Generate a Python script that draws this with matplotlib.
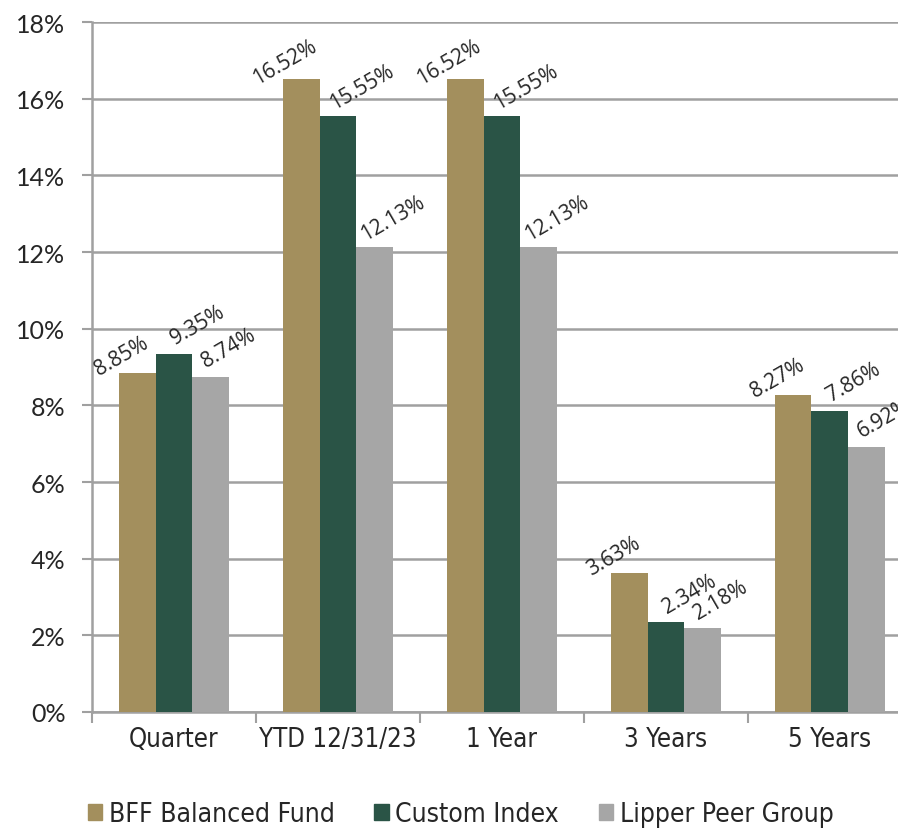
import numpy as np
import matplotlib.pyplot as plt
from matplotlib.patches import Patch

categories = ['Quarter', 'YTD 12/31/23', '1 Year', '3 Years', '5 Years']
series_names = ['BFF Balanced Fund', 'Custom Index', 'Lipper Peer Group']
fund = [8.85, 16.52, 16.52, 3.63, 8.27]
custom = [9.35, 15.55, 15.55, 2.34, 7.86]
lipper = [8.74, 12.13, 12.13, 2.18, 6.92]
colors = ['#A38F5D', '#2A5446', '#A6A6A6']

yticks = np.arange(0, 19, 2)

fig = plt.figure(figsize=(8.98, 8.29), dpi=100)
ax = fig.add_axes([0.1024, 0.140, 0.913, 0.832])

x = np.arange(len(categories))
w = 0.224
txt = '#262626'
# label offsets (pixels) per series, roughly where excel put them
dxs = [-16, 24, 18]
dys = [17, 29, 29]
for k, vals in enumerate([fund, custom, lipper]):
    pos = x + (k - 1) * w
    ax.bar(pos, vals, width=w, color=colors[k], zorder=3)
    for p, v in zip(pos, vals):
        ax.annotate('%.2f%%' % v, (p, v), xytext=(dxs[k], dys[k]),
                    textcoords='offset pixels', rotation=30, rotation_mode='anchor',
                    ha='center', va='center', fontsize=15, family='Open Sans',
                    color=txt, zorder=4)

ax.set_xlim(-0.5, len(categories) - 0.5)
ax.set_ylim(0, 18)
ax.set_yticks(yticks)
ax.set_yticklabels(['%d%%' % t for t in yticks], fontsize=18, color=txt,
                   family='Lato')
ax.yaxis.grid(True, color='#A0A0A0', linewidth=1.8, zorder=0)
ax.set_axisbelow(True)

ax.set_xticks(x)
ax.set_xticklabels(categories, fontsize=18.5, color=txt, fontstretch='condensed')
ax.set_xticks(np.arange(len(categories) + 1) - 0.5, minor=True)
ax.tick_params(axis='x', which='major', length=0, pad=10)
ax.tick_params(axis='x', which='minor', length=8, width=1.5, color='#A0A0A0')
ax.tick_params(axis='y', length=7, width=1.5, color='#A0A0A0', pad=12)

for s in ['top', 'right']:
    ax.spines[s].set_visible(False)
for s in ['left', 'bottom']:
    ax.spines[s].set_color('#A0A0A0')
    ax.spines[s].set_linewidth(1.8)

handles = [Patch(color=c) for c in colors]
fig.legend(handles, series_names, loc='center', bbox_to_anchor=(0.513, 0.017),
           ncol=3, frameon=False, prop={'size': 19, 'stretch': 'condensed'},
           handlelength=0.55, handleheight=0.55, handletextpad=0.25,
           columnspacing=1.5, labelcolor=txt)

fig.savefig('out.png', dpi=100)
